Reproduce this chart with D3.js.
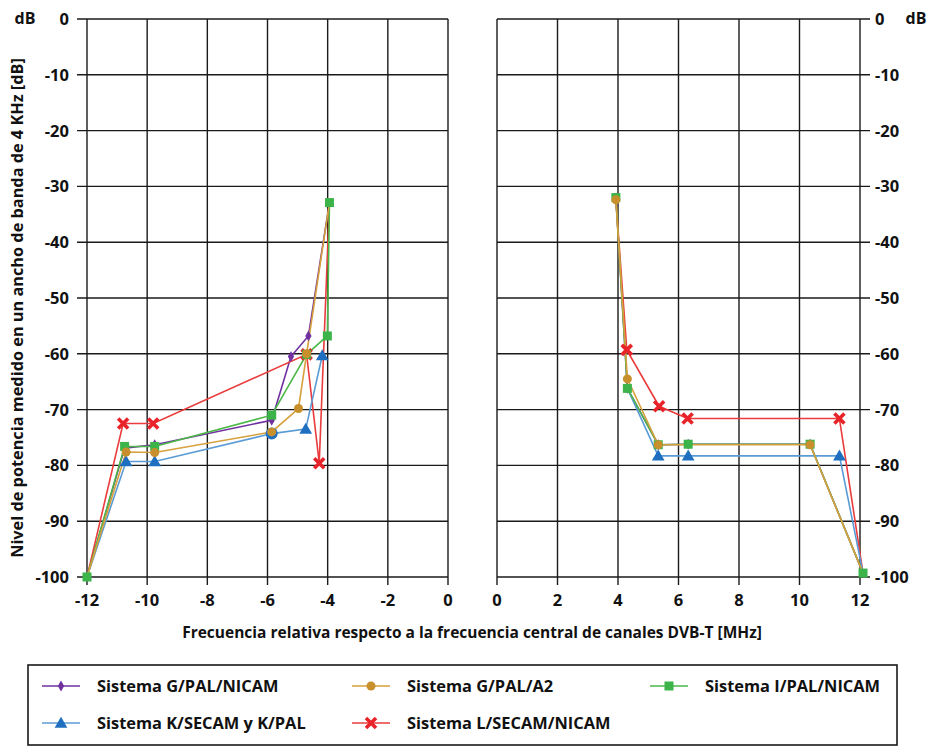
<!DOCTYPE html>
<html><head><meta charset="utf-8">
<script src="https://cdn.jsdelivr.net/npm/d3@7"></script>
<style>
body{margin:0;background:#fff;}
text{font-family:"Open Sans",Lato,sans-serif;font-weight:700;fill:#111;}
</style></head>
<body>
<svg id="c" width="939" height="746"></svg>
<script>
// ---------- data ----------
const seriesNames = ["Sistema G/PAL/NICAM","Sistema G/PAL/A2","Sistema I/PAL/NICAM","Sistema K/SECAM y K/PAL","Sistema L/SECAM/NICAM"];
const yTicks = [0,-10,-20,-30,-40,-50,-60,-70,-80,-90,-100];
const xTicksLeft = [-12,-10,-8,-6,-4,-2,0];
const xTicksRight = [0,2,4,6,8,10,12];

// left panel (negative offsets)
const gpalNicamLx = [-12,-10.75,-9.75,-5.86,-5.22,-4.64,-3.94];
const gpalNicamLy = [-100,-76.9,-76.3,-71.9,-60.5,-56.8,-32.9];
const gpalA2Lx = [-12,-10.7,-9.75,-5.86,-4.97,-4.7,-3.94];
const gpalA2Ly = [-100,-77.6,-77.7,-74.0,-69.8,-60.0,-32.9];
const ipalLx = [-12,-10.75,-9.75,-5.86,-4.7,-4.01,-3.94];
const ipalLy = [-100,-76.6,-76.6,-71.0,-60.1,-56.8,-32.9];
const ksecamLx = [-12,-10.7,-9.75,-5.86,-4.73,-4.18];
const ksecamLy = [-100,-79.3,-79.3,-74.3,-73.5,-60.3];
const lsecamLx = [-12,-10.8,-9.8,-4.7,-4.28,-3.94];
const lsecamLy = [-100,-72.5,-72.5,-60.1,-79.6,-32.9];

// right panel (positive offsets)
const gpalNicamRx = [3.93,4.31,5.33,6.32,10.35,12.1];
const gpalNicamRy = [-32.0,-66.2,-76.3,-76.2,-76.2,-99.3];
const gpalA2Rx = [3.93,4.31,5.33,10.35,12.1];
const gpalA2Ry = [-32.4,-64.5,-76.3,-76.3,-99.3];
const ipalRx = [3.93,4.31,5.33,6.32,10.35,12.1];
const ipalRy = [-32.0,-66.2,-76.3,-76.2,-76.2,-99.3];
const ksecamRx = [4.31,5.33,6.32,11.32,12.1];
const ksecamRy = [-66.2,-78.3,-78.3,-78.3,-99.3];
const lsecamRx = [3.93,4.29,5.36,6.3,11.32,12.1];
const lsecamRy = [-32.4,-59.3,-69.4,-71.6,-71.6,-99.3];

// point indices drawn without a visible marker (covered in the original)
const noMarkL = [[0,6],[0,6],[],[0],[0,5]];
const noMarkR = [[0,5],[4],[],[0,4],[0,5]];
const circleMarkL = [[],[],[],[3],[]]; // the blue round marker at -6 MHz

// ---------- styles ----------
const lineColors = ["#7030a0","#d6a03c","#4cb848","#5b9bd5","#ea3c3c"];
const markColors = ["#7030a0","#c8902c","#3cb44a","#1f6fc0","#e8242a"];
const markTypes = ["diamond","circle","square","triangle","cross"];

const svg = d3.select("#c");
const y = d3.scaleLinear().domain([-100,0]).range([577,19]);
const xL = d3.scaleLinear().domain([-12,0]).range([87,448]);
const xR = d3.scaleLinear().domain([0,12]).range([497,860]);

function grid(x, xt, side){
  const g = svg.append("g");
  const [x0,x1] = x.range();
  g.selectAll("line.h").data(yTicks).join("line")
    .attr("x1", side==="left"? x0-10 : x0).attr("x2", side==="left"? x1 : x1+10)
    .attr("y1", d=>y(d)).attr("y2", d=>y(d))
    .attr("stroke","#1a1a1a").attr("stroke-width",1.4);
  g.selectAll("line.v").data(xt).join("line")
    .attr("x1", d=>x(d)).attr("x2", d=>x(d))
    .attr("y1", y(0)).attr("y2", y(-100)+8)
    .attr("stroke","#1a1a1a").attr("stroke-width",1.4);
  g.selectAll("text.xt").data(xt).join("text")
    .attr("x", d=>x(d)).attr("y", 606)
    .attr("text-anchor","middle").attr("font-size",16.5)
    .text(d=>d);
  g.selectAll("text.yt").data(yTicks).join("text")
    .attr("x", side==="left"? x0-18 : x1+15).attr("y", d=>y(d)+6)
    .attr("text-anchor", side==="left"?"end":"start").attr("font-size",16.5)
    .text(d=>d);
}
grid(xL, xTicksLeft, "left");
grid(xR, xTicksRight, "right");

svg.append("text").attr("x",25).attr("y",24).attr("text-anchor","middle").attr("font-size",16).text("dB");
svg.append("text").attr("x",916).attr("y",24).attr("text-anchor","middle").attr("font-size",16).text("dB");

svg.append("text").attr("x",472).attr("y",638).attr("text-anchor","middle").attr("font-size",15.5)
  .text("Frecuencia relativa respecto a la frecuencia central de canales DVB-T [MHz]");
svg.append("text").attr("transform","translate(23,308) rotate(-90)").attr("text-anchor","middle").attr("font-size",16.3)
  .text("Nivel de potencia medido en un ancho de banda de 4 KHz [dB]");

function marker(g, type, cx, cy, fill, big){
  if(type==="diamond"){
    g.append("path").attr("d",d3.symbol(d3.symbolDiamond, 34)()).attr("transform",`translate(${cx},${cy})`).attr("fill",fill);
  } else if(type==="circle"){
    g.append("circle").attr("cx",cx).attr("cy",cy).attr("r", big?6:4.5).attr("fill",fill);
  } else if(type==="square"){
    g.append("rect").attr("x",cx-4.5).attr("y",cy-4.5).attr("width",9).attr("height",9).attr("fill",fill);
  } else if(type==="triangle"){
    g.append("path").attr("d",d3.symbol(d3.symbolTriangle, 70)()).attr("transform",`translate(${cx},${cy+1})`).attr("fill",fill);
  } else if(type==="cross"){
    g.append("path").attr("d",`M-5,-5L5,5M5,-5L-5,5`).attr("transform",`translate(${cx},${cy})`)
      .attr("stroke",fill).attr("stroke-width",3.6).attr("fill","none");
  }
}

const left = [[gpalNicamLx,gpalNicamLy],[gpalA2Lx,gpalA2Ly],[ipalLx,ipalLy],[ksecamLx,ksecamLy],[lsecamLx,lsecamLy]];
const right = [[gpalNicamRx,gpalNicamRy],[gpalA2Rx,gpalA2Ry],[ipalRx,ipalRy],[ksecamRx,ksecamRy],[lsecamRx,lsecamRy]];
const order = [0,4,3,2,1];

function drawPanel(x, data, noMark, circ){
  const gl = svg.append("g");
  order.forEach(i=>{
    const pts = data[i][0].map((v,j)=>[x(v), y(data[i][1][j])]);
    gl.append("path").attr("d", d3.line()(pts)).attr("fill","none")
      .attr("stroke", lineColors[i]).attr("stroke-width",1.6);
  });
  const gm = svg.append("g");
  order.forEach(i=>{
    data[i][0].forEach((v,j)=>{
      if(noMark[i].includes(j)) return;
      const isC = circ && circ[i].includes(j);
      marker(gm, isC?"circle":markTypes[i], x(v), y(data[i][1][j]), markColors[i], isC);
    });
  });
}
drawPanel(xL, left, noMarkL, circleMarkL);
drawPanel(xR, right, noMarkR, null);

// legend
const lg = svg.append("g");
lg.append("rect").attr("x",28).attr("y",665).attr("width",869).attr("height",80)
  .attr("fill","none").attr("stroke","#1a1a1a").attr("stroke-width",1.6);
const legPos = [[42,686],[352,686],[650,686],[42,723],[352,723]];
seriesNames.forEach((n,i)=>{
  const [lx,ly] = legPos[i];
  lg.append("line").attr("x1",lx).attr("x2",lx+38).attr("y1",ly).attr("y2",ly)
    .attr("stroke",lineColors[i]).attr("stroke-width",1.6);
  marker(lg, markTypes[i], lx+19, ly, markColors[i], false);
  lg.append("text").attr("x",lx+55).attr("y",ly+6).attr("font-size",16.4).text(n);
});
</script>
</body></html>
